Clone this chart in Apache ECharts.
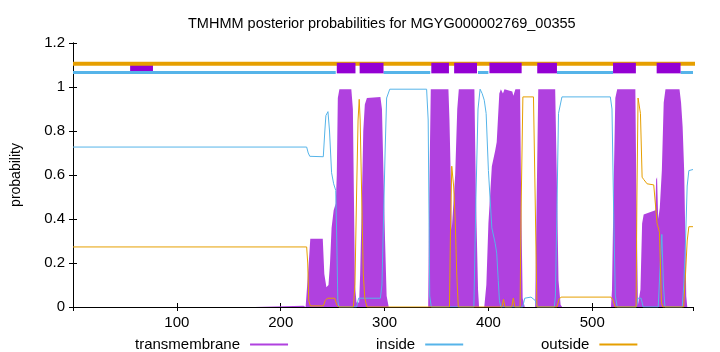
<!DOCTYPE html>
<html>
<head>
<meta charset="utf-8">
<script src="https://cdn.jsdelivr.net/npm/echarts@6/dist/echarts.min.js"></script>
<style>
  html, body { margin: 0; padding: 0; background: #fff; }
  #chart { width: 720px; height: 352px; }
</style>
</head>
<body>
<div id="chart"></div>
<script>
// sequence length and axis ticks
const seqLen = 597;
const yTicks = [0, 0.2, 0.4, 0.6, 0.8, 1, 1.2];

// posterior probabilities, [position, probability]
const tmProb = [
  [0, 0], [175, 0], [176, 0.006], [222, 0.006], [224, 0], [225.5, 0], [227, 0.2], [228.5, 0.31],
  [240.5, 0.31], [242, 0.15], [244, 0.09], [246, 0.1], [247.5, 0.2], [249, 0.36], [251, 0.44],
  [253, 0.47], [254, 0.6], [255, 0.95], [256.5, 0.99], [268, 0.99], [269.5, 0.9], [270.5, 0.5],
  [271.5, 0.1], [273, 0.02], [275.5, 0.02], [276.5, 0.15], [278, 0.45], [279.5, 0.8], [281, 0.92],
  [283, 0.95], [284.5, 0.955], [296, 0.955], [297.5, 0.9], [299, 0.6], [300.5, 0.3], [302, 0.05],
  [304, 0], [342, 0], [343, 0.5], [344.5, 0.99], [361.5, 0.99], [362.5, 0.85], [363.7, 0.6],
  [364.7, 0.35], [366, 0.45], [368, 0.6], [370, 0.9], [371.5, 0.99], [386.5, 0.99], [388, 0.5],
  [390, 0.08], [391, 0], [396, 0], [398, 0.1], [400, 0.38], [403.3, 0.64], [406.5, 0.71],
  [408, 0.75], [410.5, 0.97], [412, 0.99], [414, 0.97], [415.5, 0.99], [423, 0.98], [424, 0.96],
  [426, 0.99], [430.5, 0.99], [431.5, 0.5], [433, 0.04], [435, 0], [445, 0], [446.5, 0.5],
  [448, 0.99], [464.3, 0.99], [466, 0.55], [467.5, 0.12], [469.5, 0.01], [471, 0], [518, 0],
  [519, 0.08], [520.6, 0.55], [522.2, 0.95], [524, 0.99], [541.5, 0.99], [542.5, 0.5], [544, 0.01],
  [546.4, 0.08], [548, 0.38], [549.5, 0.42], [560.8, 0.44], [561.5, 0.58], [562.4, 0.59],
  [563.5, 0.4], [565, 0.45], [567, 0.62], [568.8, 0.93], [570.5, 0.99], [584, 0.99], [585.5, 0.93],
  [587, 0.82], [588.5, 0.62], [589.5, 0.35], [590.5, 0.05], [591.5, 0], [597, 0]
];
const insideProb = [
  [0, 0.727], [225, 0.727], [226.5, 0.7], [228, 0.685], [241, 0.683], [242.5, 0.8], [243.5, 0.87],
  [245.5, 0.888], [247, 0.8], [249, 0.61], [251, 0.56], [253, 0.53], [254, 0.3], [255, 0.03],
  [256, 0], [273, 0], [275, 0.04], [296, 0.04], [297.5, 0.1], [299, 0.4], [300.5, 0.7], [302, 0.95],
  [305, 0.99], [340.5, 0.99], [342, 0.85], [343.5, 0.05], [345, 0], [386, 0], [388, 0.5], [390, 0.9],
  [392, 0.99], [394, 0.97], [396, 0.94], [397.8, 0.88], [400, 0.62], [403.3, 0.36], [406.5, 0.29],
  [408, 0.245], [409.5, 0.12], [410.6, 0.03], [412, 0], [433, 0], [435, 0.04], [441, 0.045],
  [445, 0.03], [447, 0], [463.5, 0], [464.5, 0.05], [466, 0.45], [467.5, 0.88], [470.8, 0.955],
  [517.4, 0.955], [519, 0.9], [520.6, 0.43], [522.2, 0.05], [524, 0], [542.5, 0], [544, 0.04],
  [547, 0.04], [549, 0], [563.5, 0], [565, 0.15], [567, 0.33], [568.5, 0.1], [570, 0], [586.6, 0],
  [588.1, 0.1], [589.8, 0.3], [591.4, 0.55], [593, 0.62], [597, 0.625]
];
const outsideProb = [
  [0, 0.273], [225, 0.273], [226, 0.2], [227, 0.03], [228.5, 0.005], [241, 0.005], [243, 0.03],
  [245, 0.04], [252, 0.04], [254, 0.01], [256, 0], [270, 0], [271.5, 0.1], [273, 0.5], [274.5, 0.85],
  [275.6, 0.944], [276.5, 0.85], [278, 0.5], [279.5, 0.15], [281, 0.04], [283, 0], [362.5, 0],
  [363.5, 0.35], [364.7, 0.64], [366.5, 0.55], [368, 0.4], [369.5, 0.15], [371, 0], [413, 0],
  [414.5, 0.035], [416, 0], [422.5, 0], [424, 0.04], [425.5, 0], [430.5, 0], [431.5, 0.45],
  [433.2, 0.955], [443.4, 0.955], [445, 0.5], [446.7, 0], [466, 0], [468, 0.035], [470, 0.045],
  [518, 0.045], [520, 0.03], [522, 0], [542.2, 0], [543, 0.5], [544.1, 0.95], [546.4, 0.88],
  [548, 0.59], [549.5, 0.58], [552.8, 0.56], [559.2, 0.555], [560.8, 0.547], [562.4, 0.38],
  [564.7, 0.34], [566.6, 0.02], [568, 0], [588, 0], [589.8, 0.15], [591.4, 0.3], [593, 0.365],
  [597, 0.365]
];

// predicted topology strip at the top
const tmRegions = [[254, 272], [276, 299], [345, 362], [367, 389], [401, 432], [447, 466], [520, 542], [562, 585]];
const extraRegion = [55, 77];
const insideRegions = [[0, 253], [299, 344], [390, 400], [466, 520], [585, 597]];
const outsideLine = [[0, 1.106], [623.5, 1.106]];

const TM_COLOR = '#b041df';
const IN_COLOR = '#56b4e9';
const OUT_COLOR = '#e69f00';
const FONT = 'Liberation Sans';

let myChart = echarts.init(document.getElementById('chart'));

function legendAt(name, left) {
  return {
    data: [name],
    left: left,
    top: 332,
    align: 'right',
    icon: 'rect',
    itemWidth: 38,
    itemHeight: 2,
    textStyle: { fontFamily: FONT, fontSize: 15, color: '#000', padding: [0, 5, 0, 0] },
    selectedMode: false
  };
}

myChart.setOption({
  animation: false,
  title: {
    text: 'TMHMM posterior probabilities for MGYG000002769_00355',
    left: 183,
    top: 11,
    textStyle: { fontFamily: FONT, fontSize: 14.5, fontWeight: 'normal', color: '#000' }
  },
  legend: [
    legendAt('transmembrane', 130),
    legendAt('inside', 371),
    legendAt('outside', 536)
  ],
  grid: { left: 73, right: 27, top: 43, bottom: 45 },
  xAxis: [{
    type: 'value', min: 0, max: seqLen, interval: 100,
    axisLine: { lineStyle: { color: '#000' } },
    axisTick: { inside: true, length: 4, lineStyle: { color: '#000' } },
    axisLabel: {
      fontFamily: FONT, fontSize: 15, color: '#000', margin: 8,
      showMinLabel: false, showMaxLabel: false
    },
    splitLine: { show: false }
  }, {
    type: 'value', min: 0, max: seqLen, interval: 100, position: 'top',
    axisLine: { lineStyle: { color: '#000' } },
    axisTick: { inside: true, length: 4, lineStyle: { color: '#000' } },
    axisLabel: { show: false },
    splitLine: { show: false }
  }],
  yAxis: [{
    type: 'value', min: yTicks[0], max: yTicks[yTicks.length - 1], interval: 0.2,
    name: 'probability', nameLocation: 'middle', nameGap: 50, nameRotate: 90,
    nameTextStyle: { fontFamily: FONT, fontSize: 14, color: '#000' },
    axisLine: { show: true, lineStyle: { color: '#000' } },
    axisTick: { show: true, inside: true, length: 4, lineStyle: { color: '#000' } },
    axisLabel: { fontFamily: FONT, fontSize: 15, color: '#000', margin: 8 },
    splitLine: { show: false }
  }, {
    type: 'value', min: yTicks[0], max: yTicks[yTicks.length - 1], interval: 0.2, position: 'right',
    axisLine: { show: true, lineStyle: { color: '#000' } },
    axisTick: { show: true, inside: true, length: 4, lineStyle: { color: '#000' } },
    axisLabel: { show: false },
    splitLine: { show: false }
  }],
  series: [
    {
      // impulses in gnuplot: only the filled part, no stroke along zero
      name: 'transmembrane', type: 'line', data: tmProb, symbol: 'none',
      itemStyle: { color: TM_COLOR },
      lineStyle: { width: 0, opacity: 0 },
      areaStyle: { color: TM_COLOR, opacity: 1 }
    },
    {
      name: 'inside', type: 'line', data: insideProb, symbol: 'none',
      itemStyle: { color: IN_COLOR },
      lineStyle: { width: 1, color: IN_COLOR }
    },
    {
      name: 'outside', type: 'line', data: outsideProb, symbol: 'none',
      itemStyle: { color: OUT_COLOR },
      lineStyle: { width: 1, color: OUT_COLOR }
    },
    // top strip: odd little box under the lines
    {
      name: 'extraBox', type: 'line', data: [], silent: true,
      markArea: {
        silent: true, z: 1,
        itemStyle: { color: '#9400d3', opacity: 1 },
        data: [[{ coord: [extraRegion[0], 1.07] }, { coord: [extraRegion[1], 1.1] }]]
      }
    },
    // outside line runs past the right border like in gnuplot
    {
      name: 'outsideTop', type: 'line', data: outsideLine, symbol: 'none', clip: false, silent: true,
      lineStyle: { width: 4, color: OUT_COLOR }
    },
    {
      name: 'insideTop', type: 'line', data: [], silent: true,
      markLine: {
        silent: true, symbol: ['none', 'none'], label: { show: false },
        lineStyle: { type: 'solid', width: 3, color: IN_COLOR },
        data: insideRegions.map(r => [{ coord: [r[0], 1.067] }, { coord: [r[1], 1.067] }])
      }
    },
    {
      name: 'tmTop', type: 'line', data: [], silent: true,
      markArea: {
        silent: true, z: 10,
        itemStyle: { color: '#9400d3', opacity: 1 },
        data: tmRegions.map(r => [{ coord: [r[0], 1.062] }, { coord: [r[1], 1.11] }])
      }
    }
  ]
});
</script>
</body>
</html>
